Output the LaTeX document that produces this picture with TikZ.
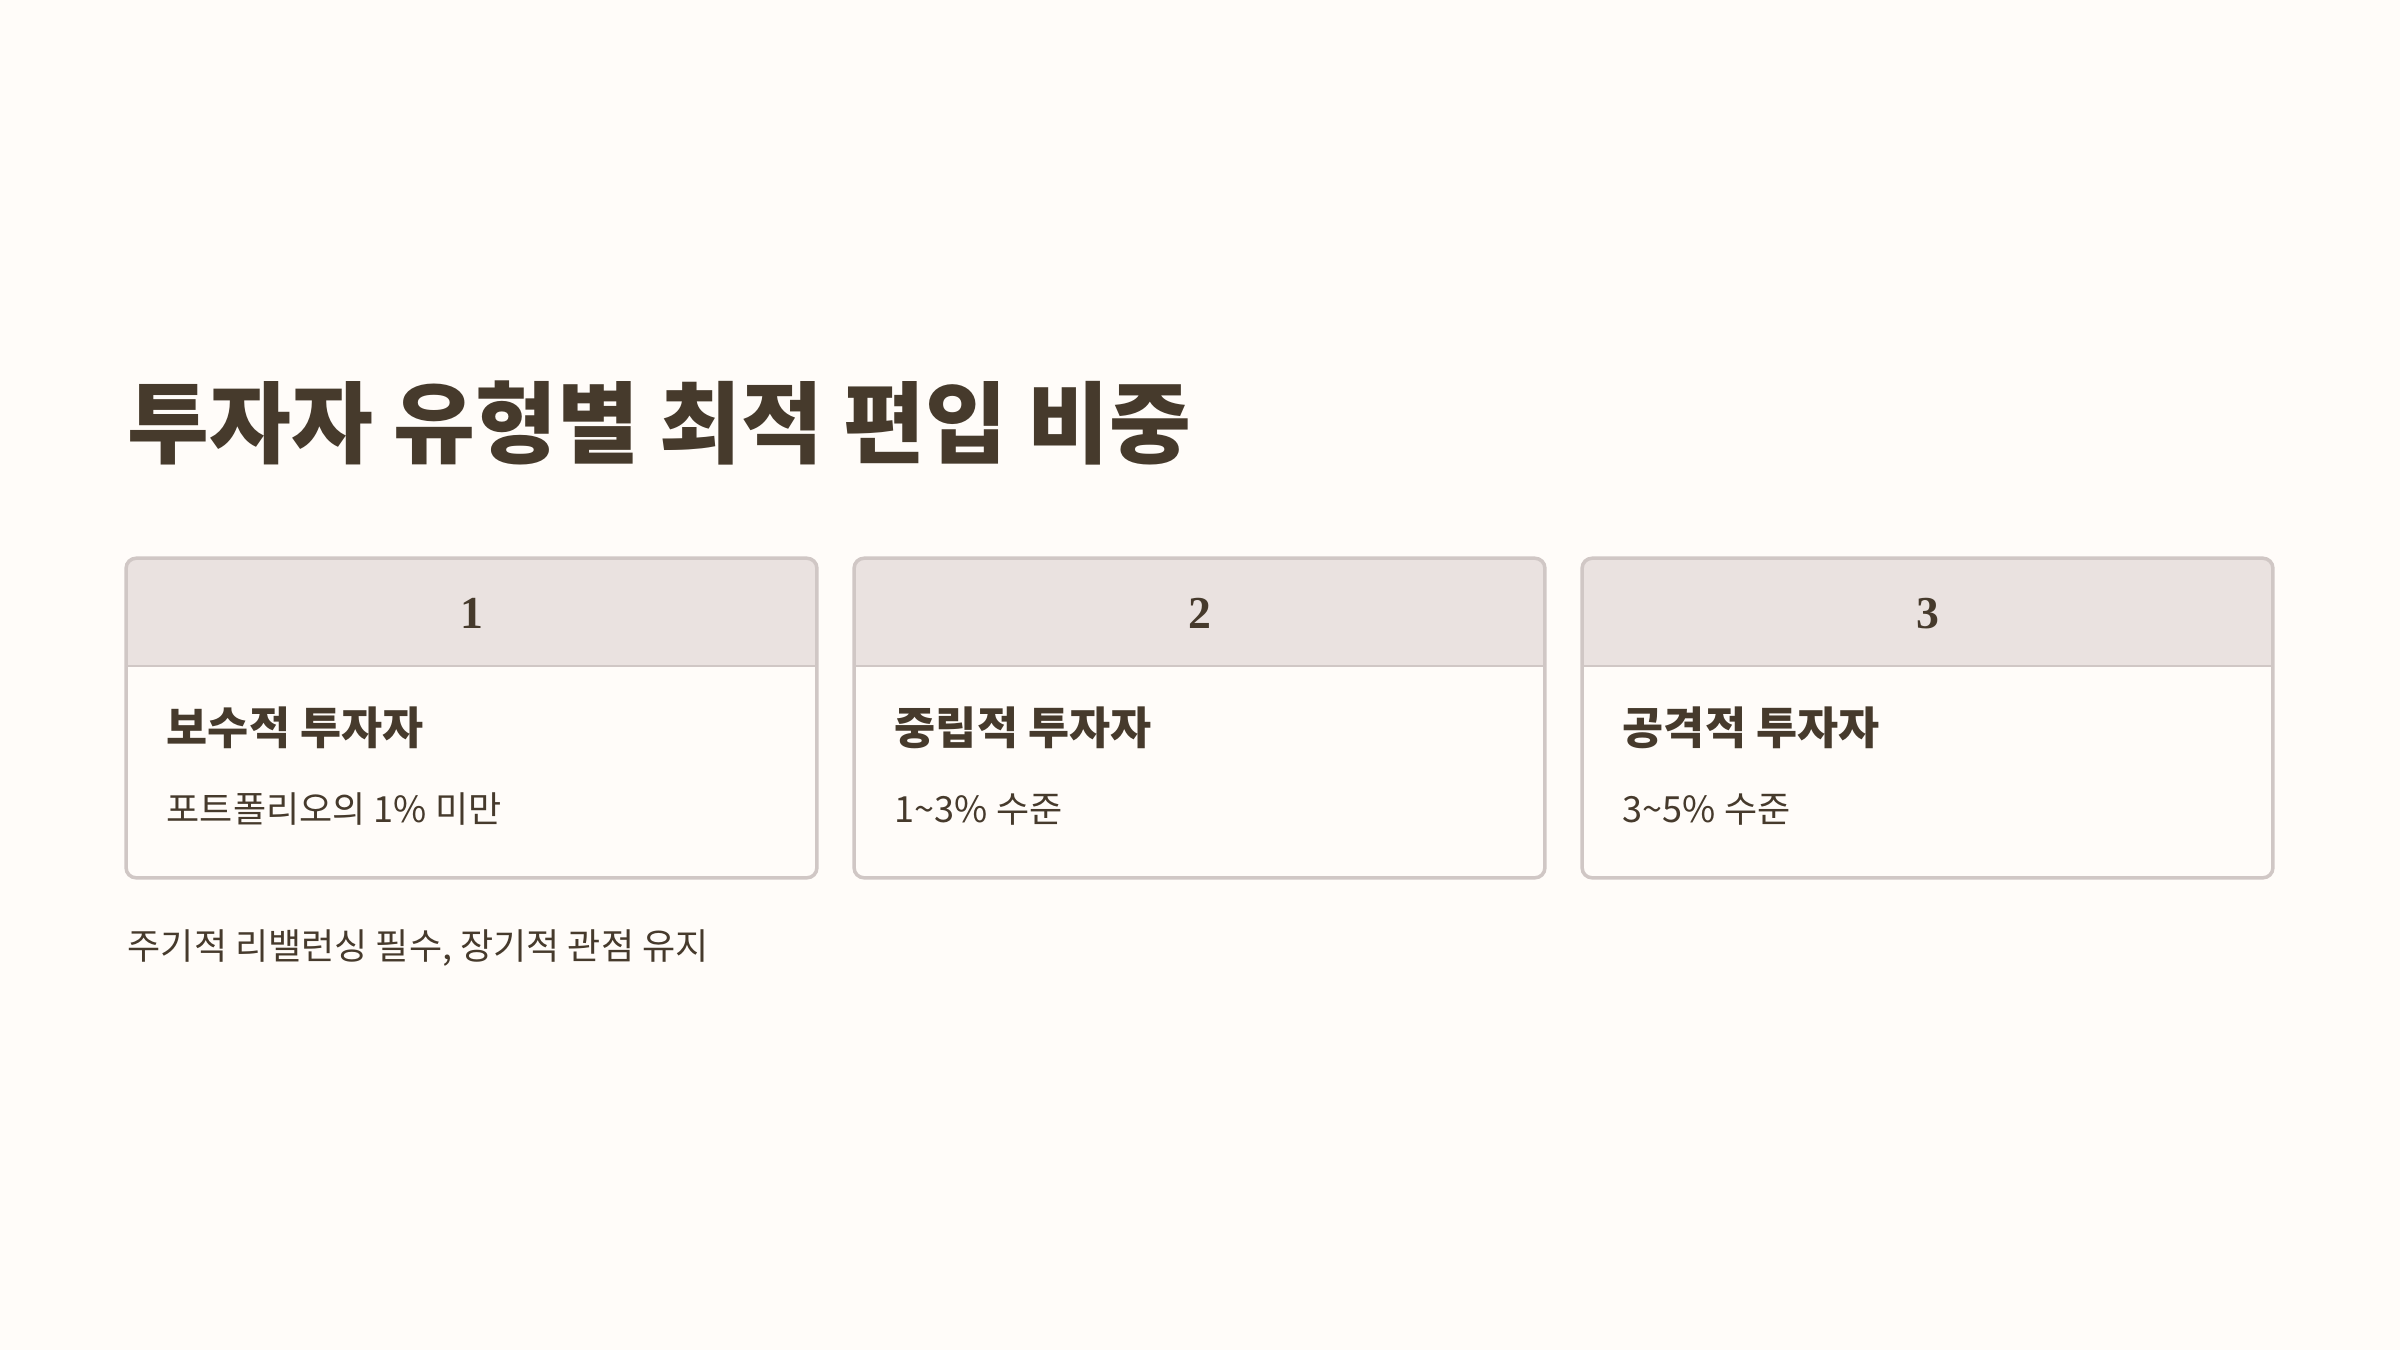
\documentclass[tikz,border=0pt]{standalone}
\usepackage{fontspec}
\setmainfont{Noto Sans CJK KR}
\newfontfamily\numfont{Liberation Serif}
\usetikzlibrary{positioning}
\definecolor{pagebg}{HTML}{FFFCF9}
\definecolor{ink}{HTML}{463A2C}
\definecolor{headbg}{HTML}{EAE2E0}
\definecolor{rim}{HTML}{D0C7C5}

\begin{document}
\begin{tikzpicture}[x=0.01cm, y=-0.01cm,
		cardbox/.style={fill=pagebg, minimum width=6.89cm, minimum height=3.18cm, inner sep=0pt},
		rimline/.style={draw=rim, line width=1pt, rounded corners=0.1cm},
		num/.style={font=\numfont\bfseries\fontsize{13}{15}\selectfont, text=ink, inner sep=0pt},
		kind/.style={anchor=west, font=\bfseries\fontsize{12.7}{15}\selectfont, text=ink, inner sep=0pt},
		share/.style={anchor=west, font=\fontsize{10.25}{12}\selectfont, text=ink, inner sep=0pt}]
		\fill[pagebg] (0,0) rectangle (2400,1350);
		\useasboundingbox (0,0) rectangle (2400,1350);
		\node[anchor=west, inner sep=0pt, text=ink, font=\bfseries\fontsize{25.3}{30}\selectfont] (title) at (127,423) {투자자 유형별 최적 편입 비중};
		% card 1
		\node[cardbox] (card1) at (471.5,718) {};
		\begin{scope}
			\clip[rounded corners=0.1cm] (card1.south west) rectangle (card1.north east);
			\fill[headbg] (card1.north west) rectangle ([yshift=-1.08cm]card1.north east);
		\end{scope}
		\draw[rim, line width=0.6pt] ([yshift=-1.08cm]card1.north west) -- ([yshift=-1.08cm]card1.north east);
		\draw[rimline] (card1.south west) rectangle (card1.north east);
		\node[num] (num1) at ([yshift=-0.55cm]card1.north) {1};
		\node[kind] (kind1) at ([xshift=0.4cm, yshift=-1.69cm]card1.north west) {보수적 투자자};
		\node[share] (share1) at ([xshift=0.4cm, yshift=-2.51cm]card1.north west) {포트폴리오의 1\% 미만};
		% card 2
		\node[cardbox] (card2) at (1199.5,718) {};
		\begin{scope}
			\clip[rounded corners=0.1cm] (card2.south west) rectangle (card2.north east);
			\fill[headbg] (card2.north west) rectangle ([yshift=-1.08cm]card2.north east);
		\end{scope}
		\draw[rim, line width=0.6pt] ([yshift=-1.08cm]card2.north west) -- ([yshift=-1.08cm]card2.north east);
		\draw[rimline] (card2.south west) rectangle (card2.north east);
		\node[num] (num2) at ([yshift=-0.55cm]card2.north) {2};
		\node[kind] (kind2) at ([xshift=0.4cm, yshift=-1.69cm]card2.north west) {중립적 투자자};
		\node[share] (share2) at ([xshift=0.4cm, yshift=-2.51cm]card2.north west) {1\textasciitilde3\% 수준};
		% card 3
		\node[cardbox] (card3) at (1927.5,718) {};
		\begin{scope}
			\clip[rounded corners=0.1cm] (card3.south west) rectangle (card3.north east);
			\fill[headbg] (card3.north west) rectangle ([yshift=-1.08cm]card3.north east);
		\end{scope}
		\draw[rim, line width=0.6pt] ([yshift=-1.08cm]card3.north west) -- ([yshift=-1.08cm]card3.north east);
		\draw[rimline] (card3.south west) rectangle (card3.north east);
		\node[num] (num3) at ([yshift=-0.55cm]card3.north) {3};
		\node[kind] (kind3) at ([xshift=0.4cm, yshift=-1.69cm]card3.north west) {공격적 투자자};
		\node[share] (share3) at ([xshift=0.4cm, yshift=-2.51cm]card3.north west) {3\textasciitilde5\% 수준};
		\node[share] (note) at (127,948) {주기적 리밸런싱 필수, 장기적 관점 유지};
	\end{tikzpicture}
\end{document}
